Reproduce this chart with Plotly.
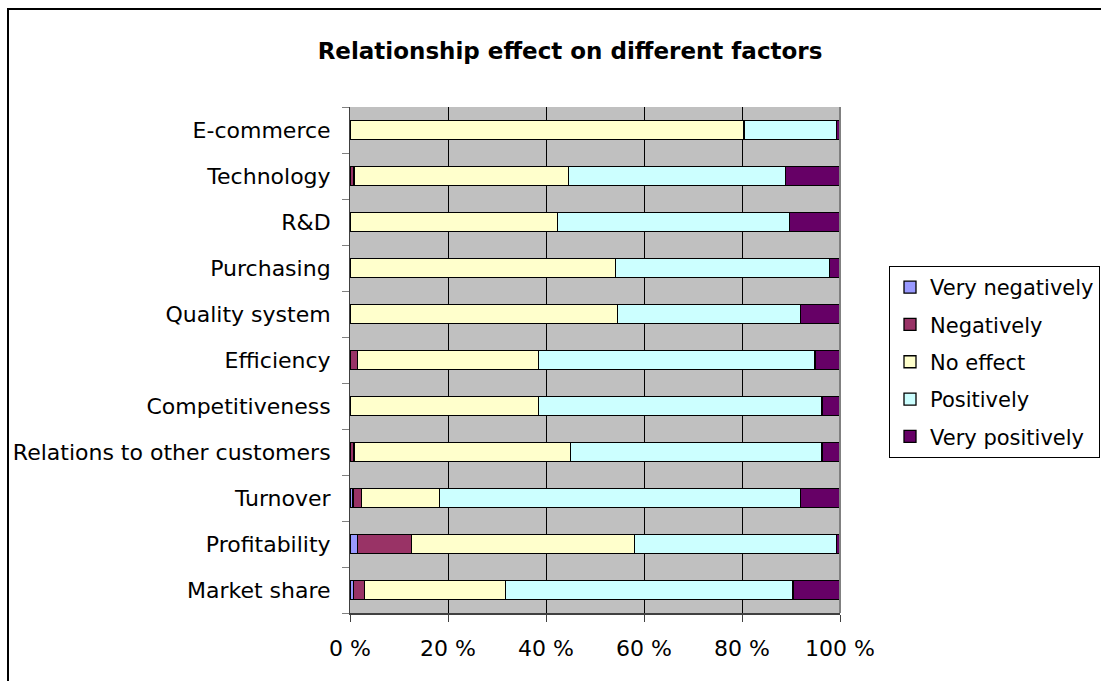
import plotly.graph_objects as go

# Categories, bottom to top as drawn
categories = ["Market share", "Profitability", "Turnover", "Relations to other customers",
              "Competitiveness", "Efficiency", "Quality system", "Purchasing", "R&D",
              "Technology", "E-commerce"]

very_negatively = [0.75, 1.5, 0.6, 0.0, 0.0, 0.0, 0.0, 0.0, 0.0, 0.0, 0.0]
negatively      = [2.25, 11.1, 1.7, 0.8, 0.0, 1.5, 0.0, 0.0, 0.0, 0.8, 0.0]
no_effect       = [28.8, 45.4, 15.9, 44.2, 38.4, 36.9, 54.6, 54.2, 42.4, 43.8, 80.4]
positively      = [58.6, 41.3, 73.8, 51.3, 57.9, 56.5, 37.4, 43.6, 47.3, 44.3, 18.9]
very_positively = [9.6, 0.7, 8.0, 3.7, 3.7, 5.1, 8.0, 2.2, 10.3, 11.1, 0.7]

series_names = ["Very negatively", "Negatively", "No effect", "Positively", "Very positively"]
series_values = [very_negatively, negatively, no_effect, positively, very_positively]
series_colors = ["#9999FF", "#993366", "#FFFFCC", "#CCFFFF", "#660066"]

x_ticks = [0, 20, 40, 60, 80, 100]

W, H = 1101, 681
L, R, T, B = 350, 840, 107, 613
FONT = "DejaVu Sans, Liberation Sans, Arial, sans-serif"

fig = go.Figure()
for i, (name, vals, col) in enumerate(zip(series_names, series_values, series_colors)):
    fig.add_trace(go.Bar(
        y=categories, x=vals, name=name, orientation="h",
        marker=dict(color=col, line=dict(color="#000000", width=1.3)),
        legendgroup=f"g{i}",
    ))

def px_x(p):
    return (p - L) / (R - L)

def px_y(p):
    return (B - p) / (B - T)

fig.update_layout(
    width=W, height=H,
    margin=dict(l=L, r=W - R, t=T, b=H - B, pad=0, autoexpand=False),
    barmode="stack", bargap=0.6,
    paper_bgcolor="white", plot_bgcolor="#C0C0C0",
    font=dict(family=FONT, size=22, color="#000000"),
    title=dict(text="<b>Relationship effect on different factors</b>",
               x=570 / W, xanchor="center", xref="container",
               y=1 - 51 / H, yanchor="middle", yref="container",
               font=dict(size=23, family=FONT, color="#000000")),
    legend=dict(
        x=px_x(889), xanchor="left", y=px_y(266), yanchor="top",
        bordercolor="#000000", borderwidth=1, bgcolor="white",
        font=dict(size=21, family=FONT), traceorder="grouped", tracegroupgap=7,
        itemwidth=30,
    ),
    xaxis=dict(
        range=[0, 100], tickvals=x_ticks, ticktext=[f"{v} %" for v in x_ticks],
        showgrid=True, gridcolor="#000000", gridwidth=1,
        showline=True, linecolor="#404040", linewidth=2,
        ticks="outside", ticklen=7, tickcolor="#404040", tickwidth=1,
        zeroline=False, tickfont=dict(size=22), ticklabelstandoff=8,
    ),
    yaxis=dict(
        showgrid=False, showline=True, linecolor="#404040", linewidth=1,
        ticks="outside", tickson="boundaries", ticklen=7, tickcolor="#808080",
        tickfont=dict(size=22), ticklabelstandoff=14, zeroline=False,
    ),
    shapes=[
        # outer chart-area border
        dict(type="rect", xref="paper", yref="paper",
             x0=px_x(8), x1=px_x(1104), y0=px_y(685), y1=px_y(9),
             line=dict(color="#000000", width=2), fillcolor="rgba(0,0,0,0)", layer="below"),
        # right plot-area edge
        dict(type="line", xref="paper", yref="paper",
             x0=1, x1=1, y0=0, y1=1, line=dict(color="#808080", width=2)),
    ],
)

fig.write_html("out.html")
